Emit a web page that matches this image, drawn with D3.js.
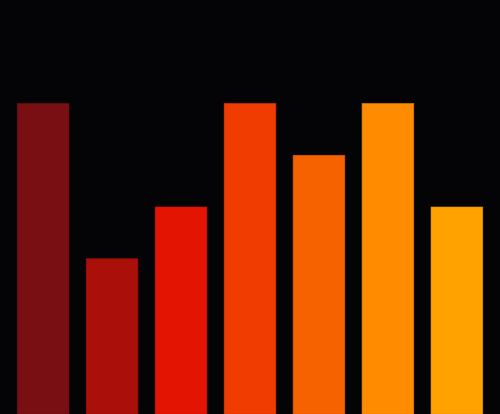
<!DOCTYPE html>
<html><head><meta charset="utf-8">
<script src="https://cdn.jsdelivr.net/npm/d3@7"></script>
<style>html,body{margin:0;padding:0;background:#040306;overflow:hidden}</style>
</head><body>
<svg id="chart" width="500" height="414"></svg>
<script>
const categories = ["A","B","C","D","E","F","G"];
const values = [6,3,4,6,5,6,4];
const colors = ["#7a0f13","#ab0f0a","#e31502","#f03c00","#f76200","#ff8c00","#ffa200"];

const W = 500, H = 414;
const svg = d3.select("#chart");
svg.append("rect").attr("width",W).attr("height",H).attr("fill","#040306");
const x = d3.scaleBand().domain(categories).range([0,W]).padding(0.25);
const y = d3.scaleLinear().domain([0,8]).range([H,0]);
svg.selectAll("rect.bar").data(categories).join("rect")
  .attr("class","bar")
  .attr("x",d=>x(d))
  .attr("y",(d,i)=>y(values[i]))
  .attr("width",x.bandwidth())
  .attr("height",(d,i)=>H-y(values[i]))
  .attr("fill",(d,i)=>colors[i])
  .attr("stroke",(d,i)=>d3.color(colors[i]).darker(0.3))
  .attr("stroke-width",0.6);
</script>
</body></html>
